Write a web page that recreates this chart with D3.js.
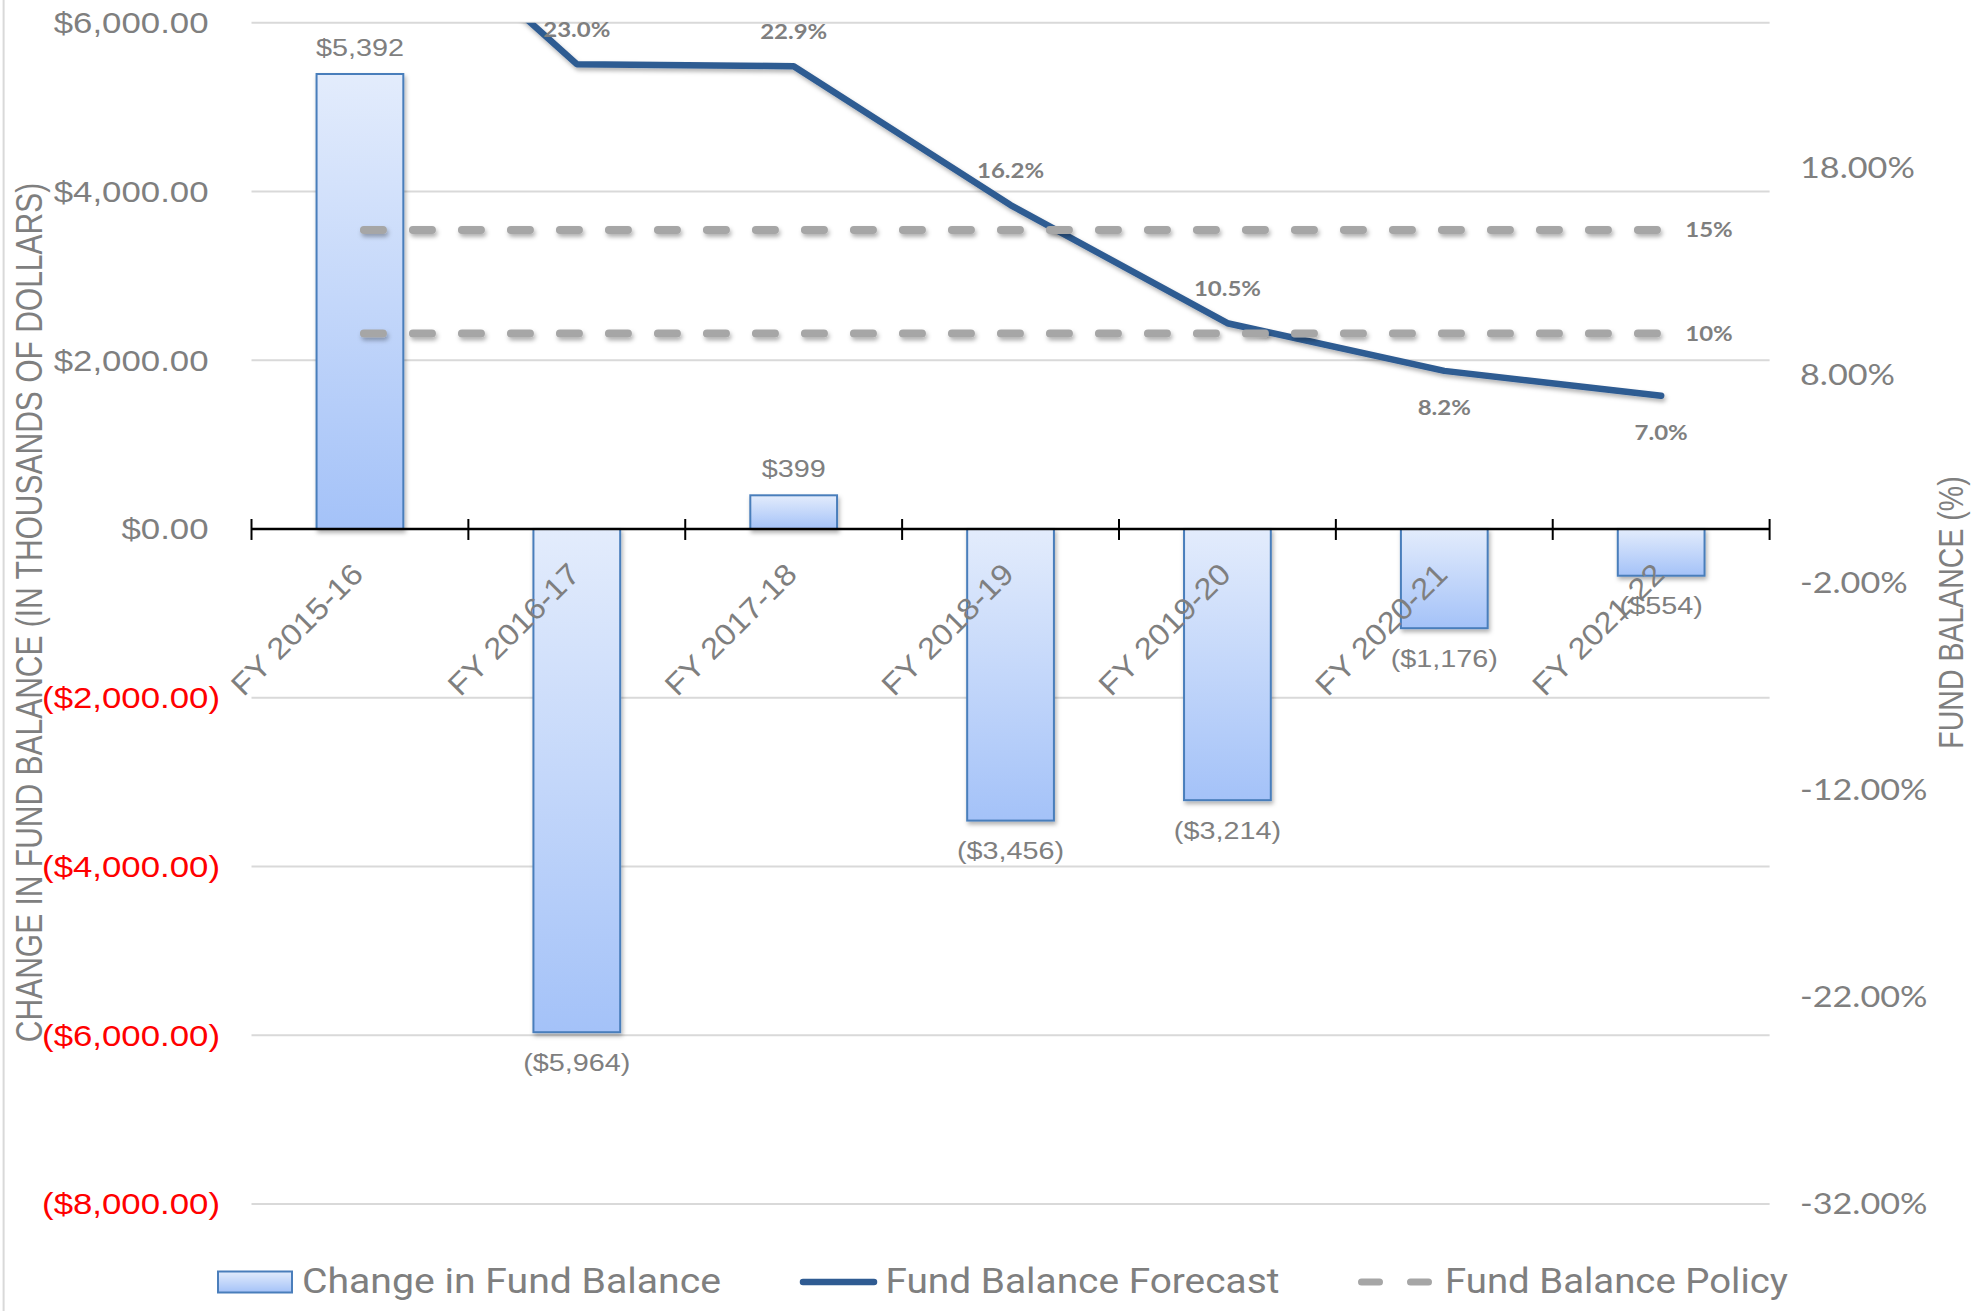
<!DOCTYPE html>
<html><head><meta charset="utf-8">
<script src="https://cdn.jsdelivr.net/npm/d3@7"></script>
<style>body{margin:0;background:#fff}svg{display:block}</style>
</head><body>
<svg id="chart" width="1972" height="1311"></svg>
<script>
// ---------- data ----------
const categories = ["FY 2015-16","FY 2016-17","FY 2017-18","FY 2018-19","FY 2019-20","FY 2020-21","FY 2021-22"];
const changeInFundBalance = [5392,-5964,399,-3456,-3214,-1176,-554];
const fundBalanceForecast = [32.4,23.0,22.9,16.2,10.5,8.2,7.0];
const forecastLabels = [null,"23.0%","22.9%","16.2%","10.5%","8.2%","7.0%"];
const forecastLabelSide = ["above","above","above","above","above","below","below"];
const policyLevels = [15,10];
const policyLabels = ["15%","10%"];
const leftTicks = [6000,4000,2000,0,-2000,-4000,-6000,-8000];
const rightTicks = [18,8,-2,-12,-22,-32];
const seriesNames = ["Change in Fund Balance","Fund Balance Forecast","Fund Balance Policy"];
const leftTitle = "CHANGE IN FUND BALANCE (IN THOUSANDS OF DOLLARS)";
const rightTitle = "FUND BALANCE (%)";

// ---------- layout ----------
const W = 1972, H = 1311;
const L = 251.5, R = 1769.6, T = 22.7, B = 1204;
const SX = 1.2; // horizontal stretch of the original picture
const GRAY = "#7f7f7f";
const svg = d3.select("#chart");

const x = d3.scaleBand().domain(categories).range([L, R]).padding(0);
const yL = d3.scaleLinear().domain([-8000, 6000]).range([B, T]);
const yR = d3.scaleLinear().domain([-32, 25]).range([B, T]);
const cx = c => x(c) + x.bandwidth() / 2;

const defs = svg.append("defs");
const grad = defs.append("linearGradient").attr("id", "barGrad")
  .attr("x1", 0).attr("y1", 0).attr("x2", 0).attr("y2", 1);
grad.append("stop").attr("offset", "0%").attr("stop-color", "#e3ecfc");
grad.append("stop").attr("offset", "100%").attr("stop-color", "#a4c2f8");
const shadow = defs.append("filter").attr("id", "shadow")
  .attr("filterUnits", "userSpaceOnUse")
  .attr("x", 0).attr("y", 0).attr("width", W).attr("height", H);
shadow.append("feDropShadow").attr("dx", 1.5).attr("dy", 3).attr("stdDeviation", 2)
  .attr("flood-color", "#000").attr("flood-opacity", 0.3);
defs.append("clipPath").attr("id", "plotClip").append("rect")
  .attr("x", L).attr("y", T).attr("width", R - L).attr("height", B - T);

function stxt(g, px, py, str, o) {
  const sx = o.sx || SX;
  let tr = `translate(${px},${py})`;
  if (o.rotFirst) tr += ` rotate(${o.rot}) scale(${sx},1)`;
  else tr += ` scale(${sx},1)` + (o.rot ? ` rotate(${o.rot})` : "");
  return g.append("text")
    .attr("transform", tr)
    .attr("text-anchor", o.anchor || "start")
    .attr("dy", o.dy || 0)
    .style("font-family", o.family || "'Liberation Sans', Arial, sans-serif")
    .style("font-size", o.size + "px")
    .style("font-weight", o.weight || "normal")
    .attr("fill", o.fill || GRAY)
    .text(str);
}

// chart border (left)
svg.append("line").attr("x1", 3.6).attr("x2", 3.6).attr("y1", 0).attr("y2", H)
  .attr("stroke", "#d9d9d9").attr("stroke-width", 2);

// gridlines
svg.append("g").selectAll("line").data(leftTicks.filter(d => d !== 0)).join("line")
  .attr("x1", L).attr("x2", R).attr("y1", d => yL(d)).attr("y2", d => yL(d))
  .attr("stroke", "#d9d9d9").attr("stroke-width", 2);

// left tick labels
const gL = svg.append("g");
const fmt = d3.format(",.2f");
leftTicks.forEach(d => {
  const s = d < 0 ? "($" + fmt(-d) + ")" : "$" + fmt(d);
  stxt(gL, d < 0 ? 220 : 208.5, yL(d), s, {anchor: "end", size: 29, dy: "0.36em", fill: d < 0 ? "#ff0000" : GRAY});
});

// right tick labels
const gR = svg.append("g");
rightTicks.forEach(d => {
  const s = d3.format(".2f")(d).replace("\u2212", "-") + "%";
  stxt(gR, 1800, yR(d), s, {anchor: "start", size: 28.5, dy: "0.36em", family: "Lato, 'Open Sans', sans-serif"});
});

// bars
const bw = x.bandwidth() * 0.4;
svg.append("g").selectAll("rect").data(categories).join("rect")
  .attr("x", c => cx(c) - bw / 2)
  .attr("width", bw)
  .attr("y", (c, i) => yL(Math.max(0, changeInFundBalance[i])))
  .attr("height", (c, i) => Math.abs(yL(changeInFundBalance[i]) - yL(0)))
  .attr("fill", "url(#barGrad)").attr("stroke", "#4a7ebb").attr("stroke-width", 2)
  .attr("filter", "url(#shadow)");

// x axis line + ticks
const y0 = yL(0);
svg.append("line").attr("x1", L).attr("x2", R).attr("y1", y0).attr("y2", y0)
  .attr("stroke", "#000").attr("stroke-width", 2.5);
const tickXs = categories.map(c => x(c)).concat([R]);
svg.append("g").selectAll("line").data(tickXs).join("line")
  .attr("x1", d => d).attr("x2", d => d).attr("y1", y0 - 10).attr("y2", y0 + 11)
  .attr("stroke", "#000").attr("stroke-width", 2);

// forecast line
const lineGen = d3.line().x((d, i) => cx(categories[i])).y(d => yR(d));
svg.append("path").datum(fundBalanceForecast)
  .attr("d", lineGen).attr("fill", "none").attr("stroke", "#2f5b92")
  .attr("stroke-width", 6.5).attr("stroke-linejoin", "round").attr("stroke-linecap", "round")
  .attr("clip-path", "url(#plotClip)").attr("filter", "url(#shadow)");

// policy lines
const x1p = cx(categories[0]), x2p = cx(categories[categories.length - 1]);
svg.append("g").selectAll("line").data(policyLevels).join("line")
  .attr("x1", x1p + 4).attr("x2", x2p).attr("y1", d => yR(d)).attr("y2", d => yR(d))
  .attr("stroke", "#a6a6a6").attr("stroke-width", 8).attr("stroke-linecap", "round")
  .attr("stroke-dasharray", "19 30").attr("filter", "url(#shadow)");
const gP = svg.append("g");
policyLevels.forEach((d, i) => {
  stxt(gP, 1709, yR(d), policyLabels[i], {anchor: "middle", size: 20, weight: "bold", dy: "0.36em", family: "Lato, 'Open Sans', sans-serif"});
});

// category labels
const gC = svg.append("g");
categories.forEach(c => {
  stxt(gC, cx(c) + 5, 576, c, {anchor: "end", size: 30, rot: -45, rotFirst: true, sx: 1.1});
});

// bar value labels
const gB = svg.append("g");
changeInFundBalance.forEach((v, i) => {
  const s = v < 0 ? "($" + d3.format(",")(-v) + ")" : "$" + d3.format(",")(v);
  const yy = v < 0 ? yL(v) + 30 : yL(v) - 27;
  stxt(gB, cx(categories[i]), yy, s, {anchor: "middle", size: 24, dy: "0.36em"});
});

// forecast labels
const gF = svg.append("g");
fundBalanceForecast.forEach((v, i) => {
  if (!forecastLabels[i]) return;
  const yy = forecastLabelSide[i] === "above" ? yR(v) - 34 : yR(v) + 37;
  stxt(gF, cx(categories[i]), yy, forecastLabels[i], {anchor: "middle", size: 20, weight: "bold", dy: "0.36em", family: "Lato, 'Open Sans', sans-serif"});
});

// axis titles
stxt(svg, 42.4, 612.5, leftTitle, {anchor: "middle", size: 30, rot: -90});
stxt(svg, 1963, 612.5, rightTitle, {anchor: "middle", size: 28.5, rot: -90});

// legend
const lg = svg.append("g");
const LY = 1282;
lg.append("rect").attr("x", 218).attr("y", 1271.5).attr("width", 74).attr("height", 21)
  .attr("fill", "url(#barGrad)").attr("stroke", "#4a7ebb").attr("stroke-width", 2);
lg.append("line").attr("x1", 803).attr("x2", 874).attr("y1", LY).attr("y2", LY)
  .attr("stroke", "#2f5b92").attr("stroke-width", 6.5).attr("stroke-linecap", "round");
lg.append("line").attr("x1", 1361.5).attr("x2", 1430).attr("y1", LY).attr("y2", LY)
  .attr("stroke", "#a6a6a6").attr("stroke-width", 7).attr("stroke-linecap", "round")
  .attr("stroke-dasharray", "18 31");
const legendX = [302, 885.4, 1445];
const legendW = [419, 394, 343];
seriesNames.forEach((n, i) => {
  lg.append("text").attr("x", legendX[i]).attr("y", 1293)
    .attr("textLength", legendW[i]).attr("lengthAdjust", "spacingAndGlyphs")
    .style("font-family", "'Liberation Sans Narrow', Roboto, sans-serif")
    .style("font-size", "35px").attr("fill", GRAY).text(n);
});
</script>
</body></html>
